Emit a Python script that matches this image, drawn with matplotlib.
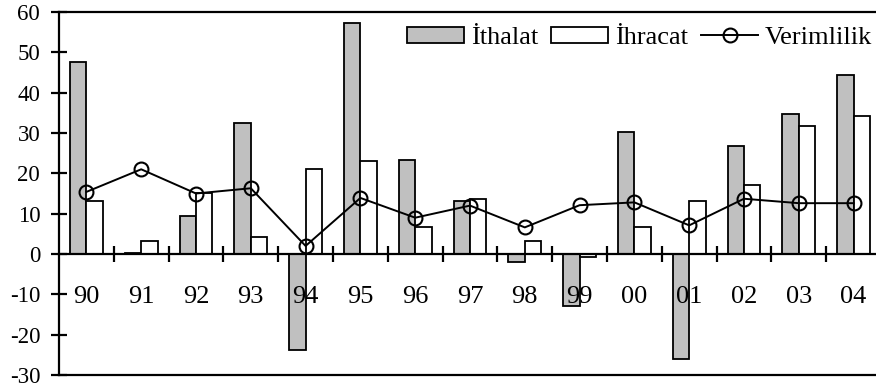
import matplotlib
matplotlib.use("Agg")
import matplotlib.pyplot as plt
import numpy as np

categories = ["90", "91", "92", "93", "94", "95", "96", "97", "98", "99", "00", "01", "02", "03", "04"]
ithalat = [47.6, 0.3, 9.5, 32.6, -23.8, 57.3, 23.3, 13.1, -2.1, -12.9, 30.2, -26.0, 26.8, 34.6, 44.3]
ihracat = [13.1, 3.3, 15.2, 4.3, 21.1, 23.0, 6.6, 13.7, 3.3, -0.7, 6.6, 13.1, 17.0, 31.7, 34.3]
verimlilik = [15.4, 21.0, 15.0, 16.3, 2.0, 13.9, 9.0, 12.0, 6.6, 12.1, 12.8, 7.1, 13.7, 12.6, 12.6]
yticks = [-30, -20, -10, 0, 10, 20, 30, 40, 50, 60]

plt.rcParams['font.family'] = ['Liberation Serif', 'DejaVu Serif']
fs_y = 16.5
fs_x = 19
fs_leg = 19

fig = plt.figure(figsize=(8.76, 3.9), dpi=100)
W, H = 876, 390
ax = fig.add_axes([59 / W, 1 - 375 / H, (881 - 59) / W, (375 - 12) / H])

x = np.arange(len(categories))
bw = 0.3
h1 = ax.bar(x - bw / 2, ithalat, bw, color="#C0C0C0", edgecolor="black", linewidth=1.3, label="İthalat", zorder=2)
h2 = ax.bar(x + bw / 2, ihracat, bw, color="white", edgecolor="black", linewidth=1.3, label="İhracat", zorder=2)
h3, = ax.plot(x, verimlilik, color="black", linewidth=1.4, marker="o", markersize=10,
              markerfacecolor="none", markeredgecolor="black", markeredgewidth=1.5, label="Verimlilik", zorder=3)

ax.set_xlim(-0.5, len(categories) - 0.5)
ax.set_ylim(-30, 60)
ax.set_yticks(yticks)
ax.set_yticklabels([str(v) for v in yticks], fontsize=fs_y)

ax.spines['right'].set_visible(False)
ax.spines['bottom'].set_position(('data', 0))
for s in ['left', 'top', 'bottom']:
    ax.spines[s].set_linewidth(1.6)
ax.axhline(-30, color="black", linewidth=1.6, clip_on=False, zorder=4)

ax.set_xticks(x[:-1] + 0.5)
ax.set_xticklabels([])
ax.tick_params(axis='x', direction='inout', length=12, width=1.6)
ax.tick_params(axis='y', direction='inout', length=11, width=1.6, pad=8)

for i, c in enumerate(categories):
    ax.text(i, -10, c, ha="center", va="center_baseline", fontsize=fs_x, zorder=5)

leg = fig.legend(handles=[h1, h2, h3], labels=["İthalat", "İhracat", "Verimlilik"],
                 loc="center right", ncol=3, frameon=False, fontsize=fs_leg,
                 handlelength=2.16, handleheight=0.6, handletextpad=0.25, columnspacing=0.5,
                 bbox_to_anchor=(872 / W, 1 - 38 / H), borderaxespad=0, borderpad=0)

fig.savefig("out.png", dpi=100)
